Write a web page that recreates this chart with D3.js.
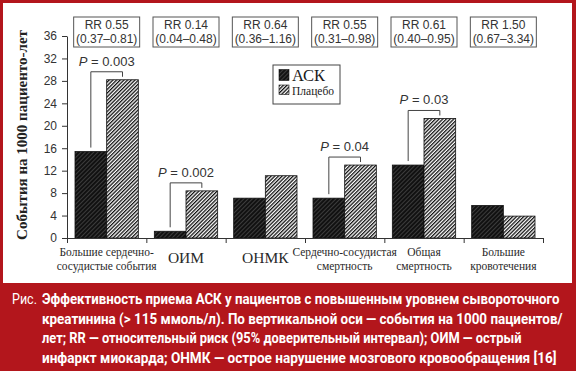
<!DOCTYPE html>
<html>
<head>
<meta charset="utf-8">
<script src="https://cdn.jsdelivr.net/npm/d3@7"></script>
<style>
  html, body { margin: 0; padding: 0; background: #fff; }
  svg { display: block; }
</style>
</head>
<body>
<div id="chart"></div>
<script>
// values
const categories = [
  ["Большие сердечно-", "сосудистые события"],
  ["ОИМ"],
  ["ОНМК"],
  ["Сердечно-сосудистая", "смертность"],
  ["Общая", "смертность"],
  ["Большие", "кровотечения"]
];
const seriesNames = ["АСК", "Плацебо"];
const askValues = [15.4, 1.2, 7.1, 7.1, 13.0, 5.8];
const placeboValues = [28.2, 8.4, 11.1, 13.0, 21.3, 3.9];
const rrLabels = ["RR 0.55", "RR 0.14", "RR 0.64", "RR 0.55", "RR 0.61", "RR 1.50"];
const rrIntervals = ["(0.37\u20130.81)", "(0.04\u20130.48)", "(0.36\u20131.16)", "(0.31\u20130.98)", "(0.40\u20130.95)", "(0.67\u20133.34)"];
const pLabels = ["0.003", "0.002", null, "0.04", "0.03", null];
const yTicks = [0, 4, 8, 12, 16, 20, 24, 28, 32, 36];
const captionLines = [
  "Эффективность приема АСК у пациентов с повышенным уровнем сывороточного",
  "креатинина (> 115 ммоль/л). По вертикальной оси — события на 1000 пациентов/",
  "лет; RR — относительный риск (95% доверительный интервал); ОИМ — острый",
  "инфаркт миокарда; ОНМК — острое нарушение мозгового кровообращения [16]"
];

const W = 576, H = 371;
const red = "#b3161c";
const ink = "#2a2a2a";

const svg = d3.select("#chart").append("svg")
  .attr("width", W)
  .attr("height", H);

// hatch patterns
const defs = svg.append("defs");
const pHatch = defs.append("pattern")
  .attr("id", "hatch")
  .attr("patternUnits", "userSpaceOnUse")
  .attr("width", 2.6).attr("height", 8)
  .attr("patternTransform", "rotate(45)");
pHatch.append("rect").attr("width", 2.6).attr("height", 8).attr("fill", "#fff");
pHatch.append("rect").attr("width", 1.3).attr("height", 8).attr("fill", "#111");

const pDark = defs.append("pattern")
  .attr("id", "dark")
  .attr("patternUnits", "userSpaceOnUse")
  .attr("width", 3).attr("height", 8)
  .attr("patternTransform", "rotate(45)");
pDark.append("rect").attr("width", 3).attr("height", 8).attr("fill", "#111");
pDark.append("rect").attr("width", 1).attr("height", 8).attr("fill", "#3c3c3c");

// frame
svg.append("rect").attr("width", W).attr("height", H).attr("fill", red);
svg.append("rect").attr("x", 3).attr("y", 3).attr("width", 569).attr("height", 280).attr("fill", "#fff");

// scales
const x0 = d3.scaleBand()
  .domain(d3.range(categories.length))
  .range([67, 543]);

const x1 = d3.scaleBand()
  .domain(seriesNames)
  .range([8, x0.bandwidth() - 8]);

const y = d3.scaleLinear()
  .domain([0, 36])
  .range([238, 36]);

const fills = { "АСК": "url(#dark)", "Плацебо": "url(#hatch)" };

// bars
const groups = svg.append("g").selectAll("g")
  .data(categories.map((c, i) => ({ i, vals: [askValues[i], placeboValues[i]] })))
  .join("g")
  .attr("transform", d => `translate(${x0(d.i)},0)`);

groups.selectAll("rect")
  .data(d => d.vals.map((v, k) => ({ name: seriesNames[k], v })))
  .join("rect")
  .attr("x", d => x1(d.name))
  .attr("y", d => y(d.v))
  .attr("width", x1.bandwidth())
  .attr("height", d => y(0) - y(d.v))
  .attr("fill", d => fills[d.name])
  .attr("stroke", "#111")
  .attr("stroke-width", 0.8);

// axes
const yAxis = svg.append("g")
  .attr("transform", "translate(67,0)")
  .call(d3.axisLeft(y).tickValues(yTicks).tickSize(5).tickSizeOuter(0).tickPadding(5));
yAxis.selectAll("text")
  .style("font-family", "Liberation Sans, Arial, sans-serif")
  .style("font-size", "12px")
  .attr("fill", "#333");
yAxis.selectAll("line, path").attr("stroke", "#333");

const xb = d3.scaleLinear().domain([0, categories.length]).range([67, 543]);
const xAxis = svg.append("g")
  .attr("transform", `translate(0,${y(0)})`)
  .call(d3.axisBottom(xb).ticks(categories.length).tickFormat("").tickSize(5).tickSizeOuter(0));
xAxis.selectAll("line, path").attr("stroke", "#333");

// squeeze a text horizontally to a given width (no narrow font installed)
function squeeze(sel, x0pos, ypos, width) {
  const natural = sel.node().getComputedTextLength();
  const sx = Math.min(1, width / natural);
  sel.attr("transform", `translate(${x0pos},${ypos}) scale(${sx},1)`);
}

// y label
svg.append("text")
  .attr("transform", `translate(27,${(35 + 235) / 2}) rotate(-90)`)
  .attr("text-anchor", "middle")
  .style("font-family", "Liberation Serif, Times New Roman, serif")
  .style("font-weight", "bold")
  .style("font-size", "15px")
  .attr("fill", "#222")
  .text("События на 1000 пациенто-лет");

// category labels
categories.forEach((lines, i) => {
  const cx = x0(i) + x0.bandwidth() / 2;
  const t = svg.append("text")
    .attr("text-anchor", "middle")
    .style("font-family", "Liberation Serif, Times New Roman, serif")
    .attr("fill", ink);
  if (lines.length === 1) {
    t.attr("x", cx).attr("y", 263).style("font-size", "15.5px").text(lines[0]);
  } else {
    t.style("font-size", "11.5px");
    lines.forEach((ln, k) => {
      t.append("tspan").attr("x", cx).attr("y", 256 + k * 14).text(ln);
    });
  }
});

// RR boxes
rrLabels.forEach((lab, i) => {
  const cx = x0(i) + x0.bandwidth() / 2;
  svg.append("rect")
    .attr("x", cx - 33).attr("y", 17)
    .attr("width", 66).attr("height", 30)
    .attr("fill", "#fff")
    .attr("stroke", "#555");
  svg.append("text")
    .attr("x", cx).attr("y", 28.5)
    .attr("text-anchor", "middle")
    .style("font-family", "Liberation Sans, Arial, sans-serif")
    .style("font-size", "12px")
    .attr("fill", "#333")
    .text(lab);
  svg.append("text")
    .attr("x", cx).attr("y", 42.5)
    .attr("text-anchor", "middle")
    .style("font-family", "Liberation Sans, Arial, sans-serif")
    .style("font-size", "12px")
    .attr("fill", "#333")
    .text(rrIntervals[i]);
});

// P brackets
pLabels.forEach((p, i) => {
  if (!p) return;
  const xa = x0(i) + x1("АСК") + x1.bandwidth() / 2;
  const xp = x0(i) + x1("Плацебо") + x1.bandwidth() / 2;
  const top = y(placeboValues[i]) - 8;
  svg.append("path")
    .attr("d", `M${xa},${y(askValues[i]) - 4}V${top}H${xp}V${y(placeboValues[i]) - 3}`)
    .attr("fill", "none")
    .attr("stroke", "#444")
    .attr("stroke-width", 1);
  const t = svg.append("text")
    .attr("x", x0(i) + x0.bandwidth() / 2)
    .attr("y", top - 6)
    .attr("text-anchor", "middle")
    .style("font-family", "Liberation Sans, Arial, sans-serif")
    .style("font-size", "13px")
    .attr("fill", "#333");
  t.append("tspan").style("font-style", "italic").text("P");
  t.append("tspan").text(" = " + p);
});

// legend
const lg = svg.append("g");
lg.append("rect")
  .attr("x", 273).attr("y", 65).attr("width", 67).attr("height", 39)
  .attr("fill", "#fff").attr("stroke", "#444");
seriesNames.forEach((name, k) => {
  lg.append("rect")
    .attr("x", 279).attr("y", k === 0 ? 69.5 : 85)
    .attr("width", 10).attr("height", k === 0 ? 11 : 9.5)
    .attr("fill", fills[name]).attr("stroke", "#111").attr("stroke-width", 0.6);
  lg.append("text")
    .attr("x", 292).attr("y", k === 0 ? 81 : 94.5)
    .style("font-family", "Liberation Serif, Times New Roman, serif")
    .style("font-size", k === 0 ? "16.5px" : "11.5px")
    .attr("fill", "#1a1a1a")
    .text(name);
});

// caption
const capFont = "Roboto, Liberation Sans, sans-serif";
const ris = svg.append("text")
  .style("font-family", capFont)
  .style("font-size", "15px")
  .attr("fill", "#fff")
  .text("Рис.");
squeeze(ris, 12, 304, 25);
const capEnds = [560, 563, 522, 557];
captionLines.forEach((ln, k) => {
  const t = svg.append("text")
    .style("font-family", capFont)
    .style("font-weight", "bold")
    .style("font-size", "15px")
    .attr("fill", "#fff")
    .text(ln);
  squeeze(t, 42, 304 + k * 19.5, capEnds[k] - 42);
});
</script>
</body>
</html>
